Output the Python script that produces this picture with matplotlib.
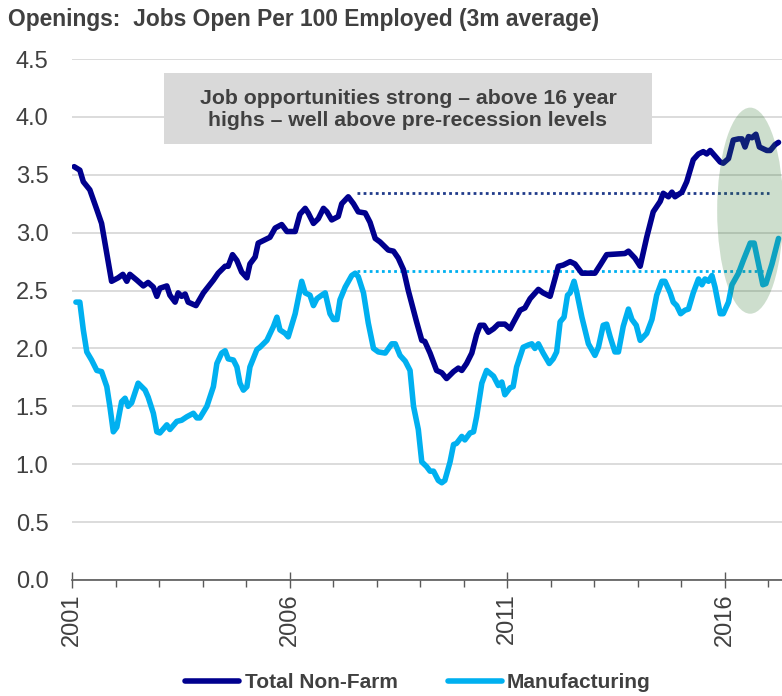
import matplotlib
matplotlib.use("Agg")
import matplotlib.pyplot as plt
from matplotlib.patches import Ellipse, Rectangle

plt.rcParams["font.family"] = ["Liberation Sans", "DejaVu Sans"]

# Job openings per 100 employed, 3-month average (decimal year, value)
total_t = [2001.05, 2001.18, 2001.26, 2001.41, 2001.57, 2001.68, 2001.80, 2001.91,
           2002.06, 2002.17, 2002.26, 2002.33, 2002.49, 2002.64, 2002.75, 2002.87,
           2002.95, 2003.02, 2003.18, 2003.25, 2003.37, 2003.44, 2003.52, 2003.60,
           2003.67, 2003.85, 2004.02, 2004.25, 2004.36, 2004.52, 2004.59, 2004.69,
           2004.79, 2004.90, 2005.02, 2005.09, 2005.21, 2005.28, 2005.44, 2005.55,
           2005.67, 2005.82, 2005.94, 2006.13, 2006.24, 2006.36, 2006.43, 2006.55,
           2006.66, 2006.78, 2006.86, 2006.97, 2007.12, 2007.20, 2007.35, 2007.47,
           2007.58, 2007.74, 2007.85, 2007.97, 2008.08, 2008.27, 2008.39, 2008.50,
           2008.62, 2008.73, 2008.85, 2008.92, 2009.04, 2009.11, 2009.23, 2009.38,
           2009.50, 2009.61, 2009.77, 2009.88, 2009.96, 2010.07, 2010.19, 2010.30,
           2010.38, 2010.47, 2010.57, 2010.69, 2010.80, 2010.95, 2011.07, 2011.14,
           2011.30, 2011.41, 2011.53, 2011.72, 2011.83, 2011.99, 2012.18, 2012.29,
           2012.45, 2012.56, 2012.72, 2013.02, 2013.14, 2013.29, 2013.71, 2013.79,
           2013.94, 2014.06, 2014.21, 2014.36, 2014.52, 2014.59, 2014.71, 2014.79,
           2014.86, 2015.02, 2015.13, 2015.28, 2015.40, 2015.51, 2015.59, 2015.67,
           2015.74, 2015.90, 2015.97, 2016.09, 2016.20, 2016.32, 2016.40, 2016.47,
           2016.55, 2016.63, 2016.72, 2016.80, 2016.97, 2017.05, 2017.16, 2017.24]
total_v = [3.57, 3.54, 3.44, 3.37, 3.20, 3.08, 2.82, 2.58,
           2.61, 2.64, 2.58, 2.64, 2.59, 2.54, 2.57, 2.53,
           2.45, 2.52, 2.54, 2.46, 2.40, 2.48, 2.45, 2.47,
           2.40, 2.37, 2.48, 2.59, 2.65, 2.71, 2.71, 2.81,
           2.76, 2.66, 2.61, 2.73, 2.79, 2.91, 2.94, 2.96,
           3.04, 3.07, 3.01, 3.01, 3.16, 3.21, 3.17, 3.08,
           3.12, 3.21, 3.18, 3.11, 3.14, 3.25, 3.31, 3.25,
           3.18, 3.17, 3.09, 2.95, 2.92, 2.85, 2.84, 2.78,
           2.68, 2.50, 2.33, 2.23, 2.07, 2.06, 1.96, 1.81,
           1.79, 1.74, 1.80, 1.83, 1.81, 1.87, 1.96, 2.12,
           2.20, 2.20, 2.14, 2.17, 2.21, 2.21, 2.17, 2.22,
           2.33, 2.35, 2.43, 2.51, 2.48, 2.45, 2.71, 2.72,
           2.75, 2.73, 2.65, 2.65, 2.72, 2.81, 2.82, 2.84,
           2.78, 2.71, 2.96, 3.18, 3.27, 3.34, 3.31, 3.35,
           3.31, 3.35, 3.44, 3.63, 3.68, 3.70, 3.68, 3.71,
           3.68, 3.61, 3.60, 3.64, 3.80, 3.81, 3.81, 3.74,
           3.83, 3.82, 3.85, 3.74, 3.71, 3.71, 3.76, 3.78]

manuf_t = [2001.09, 2001.18, 2001.26, 2001.34, 2001.45, 2001.57, 2001.68, 2001.80,
           2001.87, 2001.95, 2002.03, 2002.14, 2002.22, 2002.29, 2002.37, 2002.52,
           2002.68, 2002.75, 2002.87, 2002.95, 2003.02, 2003.18, 2003.25, 2003.41,
           2003.52, 2003.64, 2003.79, 2003.87, 2003.94, 2004.10, 2004.25, 2004.33,
           2004.44, 2004.52, 2004.59, 2004.71, 2004.79, 2004.86, 2004.94, 2005.02,
           2005.09, 2005.25, 2005.32, 2005.48, 2005.63, 2005.71, 2005.78, 2005.90,
           2005.97, 2006.13, 2006.28, 2006.36, 2006.47, 2006.55, 2006.63, 2006.74,
           2006.82, 2006.93, 2007.01, 2007.09, 2007.16, 2007.28, 2007.43, 2007.51,
           2007.58, 2007.70, 2007.81, 2007.93, 2008.04, 2008.20, 2008.35, 2008.43,
           2008.54, 2008.66, 2008.77, 2008.85, 2008.96, 2009.04, 2009.15, 2009.23,
           2009.31, 2009.42, 2009.50, 2009.57, 2009.69, 2009.77, 2009.84, 2009.96,
           2010.03, 2010.15, 2010.23, 2010.30, 2010.42, 2010.53, 2010.69, 2010.80,
           2010.88, 2010.95, 2011.07, 2011.14, 2011.22, 2011.37, 2011.49, 2011.57,
           2011.64, 2011.72, 2011.83, 2011.97, 2012.06, 2012.14, 2012.22, 2012.31,
           2012.39, 2012.45, 2012.54, 2012.60, 2012.72, 2012.87, 2013.02, 2013.10,
           2013.21, 2013.29, 2013.37, 2013.48, 2013.56, 2013.67, 2013.79, 2013.87,
           2013.97, 2014.06, 2014.21, 2014.33, 2014.44, 2014.56, 2014.63, 2014.75,
           2014.82, 2014.90, 2014.99, 2015.09, 2015.17, 2015.28, 2015.40, 2015.48,
           2015.55, 2015.63, 2015.71, 2015.78, 2015.90, 2015.97, 2016.09, 2016.17,
           2016.32, 2016.43, 2016.59, 2016.68, 2016.78, 2016.88, 2016.95, 2017.09,
           2017.24]
manuf_v = [2.40, 2.40, 2.16, 1.97, 1.90, 1.81, 1.80, 1.67,
           1.50, 1.28, 1.32, 1.54, 1.57, 1.50, 1.53, 1.70,
           1.64, 1.58, 1.44, 1.28, 1.27, 1.34, 1.30, 1.37,
           1.38, 1.41, 1.44, 1.40, 1.40, 1.50, 1.67, 1.87,
           1.96, 1.98, 1.91, 1.90, 1.84, 1.70, 1.64, 1.67,
           1.84, 1.99, 2.01, 2.07, 2.19, 2.27, 2.16, 2.13,
           2.10, 2.30, 2.58, 2.48, 2.46, 2.37, 2.43, 2.46,
           2.48, 2.30, 2.25, 2.25, 2.42, 2.53, 2.63, 2.65,
           2.62, 2.48, 2.22, 2.00, 1.97, 1.96, 2.04, 2.04,
           1.94, 1.89, 1.81, 1.50, 1.30, 1.02, 0.98, 0.94,
           0.94, 0.86, 0.84, 0.86, 1.02, 1.17, 1.18, 1.24,
           1.21, 1.27, 1.28, 1.41, 1.70, 1.81, 1.76, 1.68,
           1.71, 1.60, 1.66, 1.67, 1.84, 2.01, 2.03, 2.04,
           2.00, 2.04, 1.96, 1.87, 1.91, 1.97, 2.23, 2.27,
           2.46, 2.48, 2.58, 2.49, 2.27, 2.04, 1.94, 2.01,
           2.20, 2.21, 2.10, 1.97, 1.97, 2.19, 2.34, 2.25,
           2.20, 2.07, 2.13, 2.25, 2.46, 2.58, 2.58, 2.48,
           2.40, 2.37, 2.30, 2.33, 2.34, 2.48, 2.60, 2.55,
           2.60, 2.58, 2.63, 2.53, 2.30, 2.30, 2.40, 2.55,
           2.65, 2.76, 2.91, 2.91, 2.73, 2.55, 2.56, 2.73,
           2.95]

# Pre-recession peaks and the span they are carried across
total_peak = 3.34
manuf_peak = 2.67
peak_span = (2007.55, 2017.03)

year_ticks = [2001, 2006, 2011, 2016]
y_ticks = [0.0, 0.5, 1.0, 1.5, 2.0, 2.5, 3.0, 3.5, 4.0, 4.5]

NAVY = "#00008E"
SKY = "#00B0F0"
TEXT = "#404040"

fig = plt.figure(figsize=(7.82, 6.96), dpi=100)
ax = fig.add_axes([72 / 782, 1 - 580 / 696, 710 / 782, 521 / 696])

ax.plot(total_t, total_v, color=NAVY, lw=4.0, solid_capstyle="round",
        solid_joinstyle="round", label="Total Non-Farm", zorder=3)
ax.plot(manuf_t, manuf_v, color=SKY, lw=4.0, solid_capstyle="round",
        solid_joinstyle="round", label="Manufacturing", zorder=3)

ax.hlines(total_peak, *peak_span, colors="#1F3A8A", lw=2.0,
          linestyles=(0, (1, 1.2)), zorder=2)
ax.hlines(manuf_peak, *peak_span, colors=SKY, lw=2.0,
          linestyles=(0, (1, 1.2)), zorder=2)

# Highlight of the latest readings
ax.add_patch(Ellipse((2016.59, 3.19), 1.52, 1.78, facecolor="#387C38",
                     alpha=0.25, edgecolor="none", zorder=4))

ax.set_xlim(2001.0, 2017.32)
ax.set_ylim(0, 4.5)
ax.set_yticks(y_ticks)
ax.set_yticklabels([f"{v:.1f}" for v in y_ticks])
ax.set_xticks(year_ticks)
ax.set_xticklabels([str(y) for y in year_ticks], rotation=90)
ax.set_xticks(range(2002, 2018), minor=True)

ax.grid(axis="y", color="#D9D9D9", lw=1.3, zorder=0)
ax.set_axisbelow(True)
for side in ("left", "right", "top"):
    ax.spines[side].set_visible(False)
ax.spines["bottom"].set_color("#595959")
ax.spines["bottom"].set_linewidth(1.2)

ax.tick_params(axis="y", length=0, pad=17, labelsize=17, labelcolor=TEXT)
ax.tick_params(axis="x", which="major", direction="inout", length=11.5,
               width=1.0, color="#595959", pad=4, labelsize=17, labelcolor=TEXT)
ax.tick_params(axis="x", which="minor", direction="out", length=5,
               width=1.0, color="#595959")

fig.text(8 / 782, 1 - 26 / 696, "Openings:  Jobs Open Per 100 Employed (3m average)",
         fontsize=16.4, fontweight="bold", color=TEXT, ha="left", va="baseline")

fig.add_artist(Rectangle((164 / 782, 1 - 144 / 696), 488 / 782, 71 / 696,
                         transform=fig.transFigure, facecolor="#D9D9D9",
                         edgecolor="none", zorder=5))
fig.text(408 / 782, 1 - 109.5 / 696,
         "Job opportunities strong \u2013 above 16 year\nhighs \u2013 well above pre-recession levels",
         fontsize=15.3, fontweight="bold", color=TEXT, ha="center", va="center",
         multialignment="center", linespacing=1.15, zorder=6)

leg = ax.legend(loc="center", bbox_to_anchor=(418 / 782, 1 - 683 / 696),
                bbox_transform=fig.transFigure, ncol=2, frameon=False,
                handlelength=2.6, handletextpad=0.25, columnspacing=2.4,
                prop={"size": 15, "weight": "bold"}, labelcolor=TEXT)

fig.savefig("out.png", dpi=100)
